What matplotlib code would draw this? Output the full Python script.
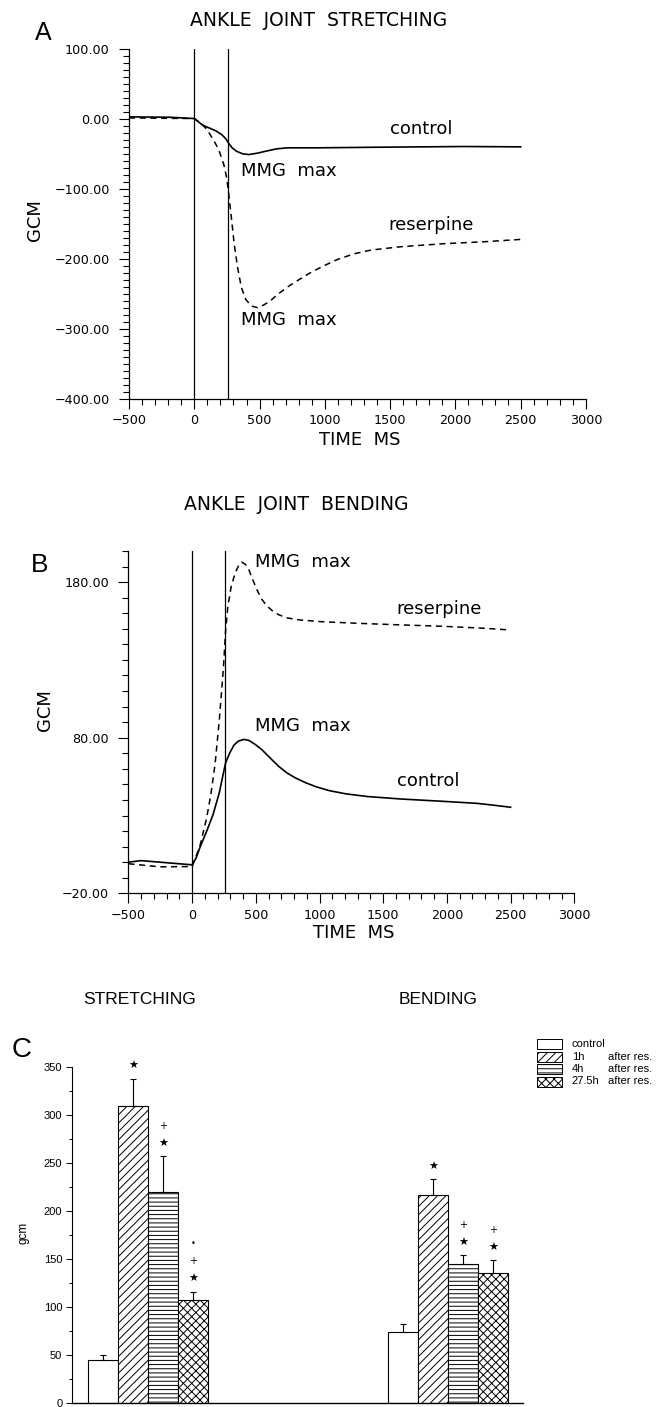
import matplotlib
matplotlib.use("Agg")
import matplotlib.pyplot as plt
from matplotlib.ticker import MultipleLocator, FixedLocator, FuncFormatter
from matplotlib.patches import Rectangle

# ---------------- data ----------------
# Panel A: ankle joint stretching (time ms, torque gcm)
a_ctrl_t = [-500, -194, 0, 32, 65, 113, 161, 210, 242, 261, 290, 323, 371, 419, 484,
            548, 629, 710, 935, 1419, 1742, 2065, 2500]
a_ctrl_y = [2.9, 2.4, 0.5, -4.3, -9, -12.9, -16.7, -22.4, -28.6, -34.3, -41.4, -46.2,
            -50, -51, -49, -46.2, -42.9, -41.4, -41.4, -40.5, -40, -39.5, -40]
a_res_t = [-500, 0, 48, 97, 145, 187, 226, 248, 261, 284, 306, 332, 361, 394, 435, 484,
           532, 581, 645, 726, 806, 903, 1000, 1097, 1226, 1355, 1581, 1903, 2226, 2500]
a_res_y = [1.4, 0.5, -5.7, -15.2, -29.5, -43.8, -65.2, -84.3, -103.3, -141.4, -179.5,
           -212.9, -241.4, -258.1, -267.6, -270, -266.2, -260.5, -250, -239, -229.5,
           -218.6, -209.5, -201, -192.9, -187.6, -182.9, -178.6, -175.7, -172.4]

# Panel B: ankle joint bending
b_ctrl_t = [-500, -400, 0, 31, 64, 114, 164, 213, 263, 296, 329, 363, 406, 445, 495,
            545, 611, 678, 744, 810, 893, 976, 1076, 1209, 1375, 1640, 1972, 2237,
            2370, 2500]
b_ctrl_y = [0, 1, -1.7, 2.6, 10, 19.8, 30.5, 44.5, 63.9, 70.3, 75.3, 77.8, 78.9, 78.3,
            75.7, 72.5, 67.1, 61.7, 57.4, 54.2, 51, 48.4, 46, 43.9, 42.2, 40.6, 39.1,
            37.8, 36.6, 35.3]
b_res_t = [-500, -250, 0, 31, 64, 114, 147, 180, 213, 246, 263, 280, 306, 336, 366,
           389, 419, 445, 479, 512, 545, 585, 628, 678, 744, 844, 1010, 1308, 1640,
           1972, 2303, 2500]
b_res_y = [-1, -3, -2.8, 3.7, 11.2, 28.4, 43.4, 62.8, 90.8, 125, 148.8, 163.9, 176.8,
           185.4, 190.8, 192.9, 191.4, 188, 181, 174.6, 169.2, 164.9, 161.7, 159.1,
           157, 155.7, 154.6, 153.5, 152.5, 151.6, 150.3, 149.2]

markers_t = [0, 260]   # vertical reference lines (ms)

# Panel C: bar chart
groups = ["STRETCHING", "BENDING"]
conditions = ["control", "1h", "4h", "27.5h"]
stretch_vals = [45, 309, 220, 107]
stretch_err = [5, 29, 37, 9]
bend_vals = [74, 217, 145, 136]
bend_err = [9, 16, 9, 13]
stretch_marks = ["", "★", "★+", "★+•"]
bend_marks = ["", "★", "★+", "★+"]
hatches = ["", "////", "----", "xxxx"]

# ---------------- figure ----------------
W, H = 661, 1407
fig = plt.figure(figsize=(W / 100, H / 100), dpi=100)
plt.rcParams['hatch.linewidth'] = 0.7


def box(l, t, r, b):
    return [l / W, 1 - b / H, (r - l) / W, (b - t) / H]


def ftext(x, y, s, **kw):
    fig.text(x / W, 1 - y / H, s, **kw)


yfmt = FuncFormatter(lambda v, p: ("%.2f" % v).replace("-", "\u2212"))
xfmt = FuncFormatter(lambda v, p: ("%d" % round(v)).replace("-", "\u2212"))


def style_line_axes(ax, ylim, ymajor, yminor):
    ax.set_xlim(-500, 3000)
    ax.set_ylim(*ylim)
    for s in ("top", "right"):
        ax.spines[s].set_visible(False)
    for s in ("left", "bottom"):
        ax.spines[s].set_linewidth(0.9)
    ax.xaxis.set_major_locator(MultipleLocator(500))
    ax.xaxis.set_minor_locator(MultipleLocator(100))
    ax.yaxis.set_major_locator(FixedLocator(ymajor))
    ax.yaxis.set_minor_locator(MultipleLocator(yminor))
    ax.yaxis.set_major_formatter(yfmt)
    ax.xaxis.set_major_formatter(xfmt)
    ax.tick_params(axis="both", which="major", direction="out", length=7, width=0.8,
                   labelsize=9.2)
    ax.tick_params(axis="both", which="minor", direction="out", length=4.5, width=0.8)
    ax.tick_params(axis="y", which="major", pad=7)
    ax.tick_params(axis="x", which="major", pad=4)
    for t in markers_t:
        ax.axvline(t, color="black", lw=0.9)


dash = (0, (4, 3))
LBL = 13

# Panel A
axA = fig.add_axes(box(129, 49, 586, 398.5))
style_line_axes(axA, (-400, 100), [-400, -300, -200, -100, 0, 100], 10)
axA.plot(a_ctrl_t, a_ctrl_y, color="black", lw=1.2)
axA.plot(a_res_t, a_res_y, color="black", lw=1.1, linestyle=dash)
axA.text(1500, -15, "control", fontsize=LBL, va="center", ha="left")
axA.text(1484, -152, "reserpine", fontsize=LBL, va="center", ha="left")
axA.text(355, -75, "MMG  max", fontsize=LBL, va="center", ha="left")
axA.text(355, -287, "MMG  max", fontsize=LBL, va="center", ha="left")
ftext(35, 220, "GCM", rotation=90, fontsize=13, ha="center", va="center")
ftext(360, 440, "TIME  MS", fontsize=13, ha="center", va="center")
ftext(319, 21, "ANKLE  JOINT  STRETCHING", fontsize=13.5, ha="center", va="center")
ftext(43, 33, "A", fontsize=18, ha="center", va="center", family="Liberation Sans")

# Panel B
axB = fig.add_axes(box(128.4, 551, 574.3, 893.3))
style_line_axes(axB, (-20, 200), [-20, 80, 180], 10)
axB.plot(b_ctrl_t, b_ctrl_y, color="black", lw=1.2)
axB.plot(b_res_t, b_res_y, color="black", lw=1.1, linestyle=dash)
axB.text(495, 193, "MMG  max", fontsize=LBL, va="center", ha="left")
axB.text(1607, 163, "reserpine", fontsize=LBL, va="center", ha="left")
axB.text(495, 87.5, "MMG  max", fontsize=LBL, va="center", ha="left")
axB.text(1607, 52, "control", fontsize=LBL, va="center", ha="left")
ftext(45, 710, "GCM", rotation=90, fontsize=13, ha="center", va="center")
ftext(354, 933, "TIME  MS", fontsize=13, ha="center", va="center")
ftext(296, 505, "ANKLE  JOINT  BENDING", fontsize=13.5, ha="center", va="center")
ftext(40, 565, "B", fontsize=19, ha="center", va="center", family="Liberation Sans")

# Panel C
axC = fig.add_axes(box(72, 1067, 523.3, 1403.3))
axC.set_xlim(-0.254, 1.25)
axC.set_ylim(0, 350)
for s in ("top", "right"):
    axC.spines[s].set_visible(False)
axC.spines["left"].set_linewidth(0.8)
axC.spines["bottom"].set_linewidth(1.0)
axC.yaxis.set_major_locator(MultipleLocator(50))
axC.yaxis.set_minor_locator(MultipleLocator(25))
axC.tick_params(axis="y", which="major", length=4, width=0.7, labelsize=8, pad=3,
                labelfontfamily="Liberation Sans")
axC.tick_params(axis="y", which="minor", length=2.5, width=0.7)
axC.set_xticks([])

bw = 0.1
group_x = [0, 1]
for gx, vals, errs, marks in zip(group_x, [stretch_vals, bend_vals],
                                 [stretch_err, bend_err],
                                 [stretch_marks, bend_marks]):
    for i, (v, e, m, h) in enumerate(zip(vals, errs, marks, hatches)):
        xc = gx + (i - 1.5) * bw
        axC.bar(xc, v, width=bw, color="white", edgecolor="black", linewidth=0.8,
                hatch=h, zorder=2)
        axC.errorbar(xc, v, yerr=[[0], [e]], fmt="none", ecolor="black",
                     elinewidth=0.8, capsize=2.5, capthick=0.8, zorder=3)
        for k, ch in enumerate(m):
            fs = {"★": 8, "+": 7, "•": 6}[ch]
            axC.annotate(ch, xy=(xc, v + e), xytext=(0, 9 + 13 * k),
                         textcoords="offset points", ha="center", va="center",
                         fontsize=fs, family="DejaVu Sans")

ftext(24, 1233, "gcm", rotation=90, fontsize=8.5, ha="center", va="center",
      family="Liberation Sans")
ftext(140, 999, "STRETCHING", fontsize=12.5, ha="center", va="center",
      family="Liberation Sans")
ftext(438, 999, "BENDING", fontsize=12.5, ha="center", va="center",
      family="Liberation Sans")
ftext(22, 1050, "C", fontsize=20, ha="center", va="center", family="Liberation Sans")

# legend for panel C (drawn manually)
leg_rows_y = [1044, 1056.5, 1069, 1081.5]
for yy, name, h in zip(leg_rows_y, conditions, hatches):
    rect = Rectangle(((536.7) / W, 1 - (yy + 5) / H), 25 / W, 10 / H,
                     transform=fig.transFigure, facecolor="white",
                     edgecolor="black", linewidth=0.7, hatch=h)
    fig.add_artist(rect)
    ftext(571.7, yy, name, fontsize=8, ha="left", va="center", family="Liberation Sans")
    if name != "control":
        ftext(608.3, yy, "after res.", fontsize=8, ha="left", va="center",
              family="Liberation Sans")

fig.savefig("out.png", dpi=100)
